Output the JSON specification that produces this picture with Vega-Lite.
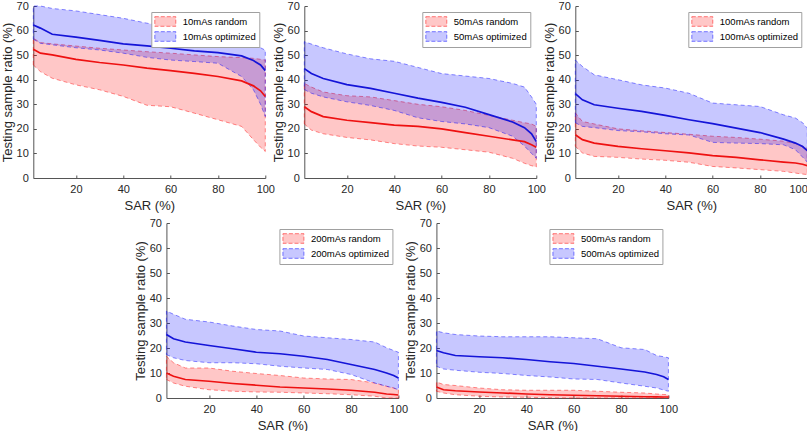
{
  "$schema": "https://vega.github.io/schema/vega-lite/v6.json",
  "padding": {"left": 1, "top": 0, "right": 0, "bottom": 0},
  "autosize": {"type": "pad"},
  "data": {"name": "d"},
  "datasets": {
    "d": [
      {"p":"10mAs","s":"random","x":2,"lo":46,"m":52.4,"hi":56.9},
      {"p":"10mAs","s":"random","x":5,"lo":43.3,"m":50.8,"hi":55.1},
      {"p":"10mAs","s":"random","x":10,"lo":40.6,"m":50.1,"hi":54.6},
      {"p":"10mAs","s":"random","x":20,"lo":37.9,"m":48.3,"hi":53.7},
      {"p":"10mAs","s":"random","x":30,"lo":35.9,"m":47,"hi":52.8},
      {"p":"10mAs","s":"random","x":40,"lo":33.2,"m":46,"hi":52.1},
      {"p":"10mAs","s":"random","x":50,"lo":29.6,"m":44.7,"hi":51.4},
      {"p":"10mAs","s":"random","x":60,"lo":29,"m":43.7,"hi":50.8},
      {"p":"10mAs","s":"random","x":70,"lo":26.4,"m":42.6,"hi":50.1},
      {"p":"10mAs","s":"random","x":80,"lo":23.7,"m":41.3,"hi":49.4},
      {"p":"10mAs","s":"random","x":90,"lo":21,"m":39.5,"hi":49},
      {"p":"10mAs","s":"random","x":95,"lo":15.6,"m":37.5,"hi":48.7},
      {"p":"10mAs","s":"random","x":98,"lo":12.5,"m":35.5,"hi":48.3},
      {"p":"10mAs","s":"random","x":100,"lo":10.8,"m":33.2,"hi":48},
      {"p":"10mAs","s":"optimized","x":2,"lo":56.5,"m":62.3,"hi":70},
      {"p":"10mAs","s":"optimized","x":5,"lo":54.8,"m":61,"hi":70},
      {"p":"10mAs","s":"optimized","x":10,"lo":54.2,"m":58.5,"hi":69},
      {"p":"10mAs","s":"optimized","x":20,"lo":53,"m":57.3,"hi":68},
      {"p":"10mAs","s":"optimized","x":30,"lo":52.1,"m":56,"hi":66.5},
      {"p":"10mAs","s":"optimized","x":40,"lo":50.8,"m":54.6,"hi":65},
      {"p":"10mAs","s":"optimized","x":50,"lo":49.1,"m":53.8,"hi":63},
      {"p":"10mAs","s":"optimized","x":60,"lo":48,"m":52.8,"hi":61.5},
      {"p":"10mAs","s":"optimized","x":70,"lo":47.4,"m":51.7,"hi":60},
      {"p":"10mAs","s":"optimized","x":80,"lo":46.7,"m":51,"hi":58.5},
      {"p":"10mAs","s":"optimized","x":90,"lo":41.3,"m":49.7,"hi":56},
      {"p":"10mAs","s":"optimized","x":95,"lo":35.9,"m":47.8,"hi":54.5},
      {"p":"10mAs","s":"optimized","x":98,"lo":30,"m":46,"hi":53},
      {"p":"10mAs","s":"optimized","x":100,"lo":25,"m":43.7,"hi":52},

      {"p":"50mAs","s":"random","x":2,"lo":22,"m":29,"hi":38.5},
      {"p":"50mAs","s":"random","x":5,"lo":19.5,"m":27,"hi":37},
      {"p":"50mAs","s":"random","x":10,"lo":18,"m":25,"hi":35},
      {"p":"50mAs","s":"random","x":20,"lo":16.5,"m":23.5,"hi":33.5},
      {"p":"50mAs","s":"random","x":30,"lo":15.5,"m":22.5,"hi":33},
      {"p":"50mAs","s":"random","x":40,"lo":14,"m":21.5,"hi":31.5},
      {"p":"50mAs","s":"random","x":50,"lo":13,"m":21,"hi":30},
      {"p":"50mAs","s":"random","x":60,"lo":12.5,"m":20,"hi":29},
      {"p":"50mAs","s":"random","x":70,"lo":11.5,"m":18.5,"hi":27.5},
      {"p":"50mAs","s":"random","x":80,"lo":10.5,"m":17,"hi":25.5},
      {"p":"50mAs","s":"random","x":90,"lo":8,"m":15.5,"hi":23.5},
      {"p":"50mAs","s":"random","x":95,"lo":6,"m":14.8,"hi":22.5},
      {"p":"50mAs","s":"random","x":98,"lo":5,"m":13.5,"hi":22},
      {"p":"50mAs","s":"random","x":100,"lo":4.5,"m":12.5,"hi":21},
      {"p":"50mAs","s":"optimized","x":2,"lo":36,"m":44.5,"hi":55.5},
      {"p":"50mAs","s":"optimized","x":5,"lo":34.5,"m":42.5,"hi":54.5},
      {"p":"50mAs","s":"optimized","x":10,"lo":33,"m":40.5,"hi":53},
      {"p":"50mAs","s":"optimized","x":20,"lo":31,"m":38,"hi":50.5},
      {"p":"50mAs","s":"optimized","x":30,"lo":29.5,"m":36.5,"hi":48.5},
      {"p":"50mAs","s":"optimized","x":40,"lo":27.5,"m":34.5,"hi":47.5},
      {"p":"50mAs","s":"optimized","x":50,"lo":24.5,"m":32.5,"hi":45},
      {"p":"50mAs","s":"optimized","x":60,"lo":23,"m":30.8,"hi":42.5},
      {"p":"50mAs","s":"optimized","x":70,"lo":22,"m":28.8,"hi":41.5},
      {"p":"50mAs","s":"optimized","x":80,"lo":20.5,"m":25.8,"hi":40.5},
      {"p":"50mAs","s":"optimized","x":90,"lo":17,"m":22.8,"hi":38.5},
      {"p":"50mAs","s":"optimized","x":95,"lo":13,"m":20.5,"hi":37},
      {"p":"50mAs","s":"optimized","x":98,"lo":10,"m":18,"hi":33},
      {"p":"50mAs","s":"optimized","x":100,"lo":8,"m":14.8,"hi":30},

      {"p":"100mAs","s":"random","x":2,"lo":12.9,"m":17.6,"hi":26.5},
      {"p":"100mAs","s":"random","x":5,"lo":10.2,"m":15.6,"hi":23},
      {"p":"100mAs","s":"random","x":10,"lo":8.8,"m":14.2,"hi":22},
      {"p":"100mAs","s":"random","x":20,"lo":8.4,"m":12.9,"hi":20},
      {"p":"100mAs","s":"random","x":30,"lo":7.7,"m":11.9,"hi":19.2},
      {"p":"100mAs","s":"random","x":40,"lo":7.2,"m":11.1,"hi":18.5},
      {"p":"100mAs","s":"random","x":50,"lo":6.4,"m":10.2,"hi":17.8},
      {"p":"100mAs","s":"random","x":60,"lo":4.7,"m":9.1,"hi":17},
      {"p":"100mAs","s":"random","x":70,"lo":4.1,"m":8.4,"hi":16.5},
      {"p":"100mAs","s":"random","x":80,"lo":3.4,"m":7.4,"hi":15.8},
      {"p":"100mAs","s":"random","x":90,"lo":2.7,"m":6.5,"hi":15},
      {"p":"100mAs","s":"random","x":95,"lo":2,"m":6.1,"hi":14},
      {"p":"100mAs","s":"random","x":98,"lo":1.6,"m":5.6,"hi":13},
      {"p":"100mAs","s":"random","x":100,"lo":1.4,"m":5,"hi":12},
      {"p":"100mAs","s":"optimized","x":2,"lo":22.5,"m":34.3,"hi":48},
      {"p":"100mAs","s":"optimized","x":5,"lo":21,"m":31.8,"hi":45.4},
      {"p":"100mAs","s":"optimized","x":10,"lo":20.5,"m":29.8,"hi":42},
      {"p":"100mAs","s":"optimized","x":20,"lo":19.3,"m":28.4,"hi":40},
      {"p":"100mAs","s":"optimized","x":30,"lo":18.8,"m":27.1,"hi":37.9},
      {"p":"100mAs","s":"optimized","x":40,"lo":18,"m":25.5,"hi":36.6},
      {"p":"100mAs","s":"optimized","x":50,"lo":17.5,"m":23.7,"hi":34.5},
      {"p":"100mAs","s":"optimized","x":60,"lo":14.5,"m":22.1,"hi":30.5},
      {"p":"100mAs","s":"optimized","x":70,"lo":14.2,"m":20.3,"hi":29.8},
      {"p":"100mAs","s":"optimized","x":80,"lo":14,"m":18.5,"hi":29.1},
      {"p":"100mAs","s":"optimized","x":90,"lo":13.5,"m":15.8,"hi":25.7},
      {"p":"100mAs","s":"optimized","x":95,"lo":11.5,"m":14.2,"hi":24.4},
      {"p":"100mAs","s":"optimized","x":98,"lo":8.5,"m":12.8,"hi":22.5},
      {"p":"100mAs","s":"optimized","x":100,"lo":6.5,"m":11.1,"hi":20.3},

      {"p":"200mAs","s":"random","x":2,"lo":7.4,"m":10,"hi":16.7},
      {"p":"200mAs","s":"random","x":5,"lo":6,"m":8.7,"hi":14.1},
      {"p":"200mAs","s":"random","x":10,"lo":4.7,"m":7.4,"hi":12},
      {"p":"200mAs","s":"random","x":20,"lo":3.3,"m":6.7,"hi":12},
      {"p":"200mAs","s":"random","x":30,"lo":2.7,"m":5.8,"hi":10.7},
      {"p":"200mAs","s":"random","x":40,"lo":2.4,"m":5.1,"hi":9.8},
      {"p":"200mAs","s":"random","x":50,"lo":2.3,"m":4.4,"hi":9},
      {"p":"200mAs","s":"random","x":60,"lo":2,"m":4,"hi":8},
      {"p":"200mAs","s":"random","x":70,"lo":1.7,"m":3.6,"hi":7.6},
      {"p":"200mAs","s":"random","x":80,"lo":1.3,"m":3.1,"hi":7.4},
      {"p":"200mAs","s":"random","x":90,"lo":0.7,"m":2.3,"hi":6},
      {"p":"200mAs","s":"random","x":95,"lo":0,"m":1.6,"hi":4.7},
      {"p":"200mAs","s":"random","x":98,"lo":0,"m":1.4,"hi":4},
      {"p":"200mAs","s":"random","x":100,"lo":0,"m":1.2,"hi":3.3},
      {"p":"200mAs","s":"optimized","x":2,"lo":17.4,"m":25.4,"hi":34.8},
      {"p":"200mAs","s":"optimized","x":5,"lo":16.1,"m":23.7,"hi":33.5},
      {"p":"200mAs","s":"optimized","x":10,"lo":15,"m":22.4,"hi":31.5},
      {"p":"200mAs","s":"optimized","x":20,"lo":14.1,"m":21,"hi":30.4},
      {"p":"200mAs","s":"optimized","x":30,"lo":14.1,"m":19.7,"hi":28.8},
      {"p":"200mAs","s":"optimized","x":40,"lo":13.7,"m":18.3,"hi":27.4},
      {"p":"200mAs","s":"optimized","x":50,"lo":12.7,"m":17.7,"hi":26.8},
      {"p":"200mAs","s":"optimized","x":60,"lo":12,"m":16.7,"hi":24.8},
      {"p":"200mAs","s":"optimized","x":70,"lo":11.4,"m":15.4,"hi":24.1},
      {"p":"200mAs","s":"optimized","x":80,"lo":9.4,"m":13.4,"hi":23.4},
      {"p":"200mAs","s":"optimized","x":90,"lo":6,"m":11.4,"hi":22.4},
      {"p":"200mAs","s":"optimized","x":95,"lo":4.7,"m":10,"hi":20.1},
      {"p":"200mAs","s":"optimized","x":98,"lo":4,"m":9,"hi":19},
      {"p":"200mAs","s":"optimized","x":100,"lo":3.3,"m":8,"hi":18.3},

      {"p":"500mAs","s":"random","x":2,"lo":2.7,"m":4.4,"hi":6.4},
      {"p":"500mAs","s":"random","x":5,"lo":2,"m":3.3,"hi":5.4},
      {"p":"500mAs","s":"random","x":10,"lo":1.3,"m":2.9,"hi":5},
      {"p":"500mAs","s":"random","x":20,"lo":0.7,"m":2.4,"hi":4},
      {"p":"500mAs","s":"random","x":30,"lo":0.4,"m":2,"hi":3.3},
      {"p":"500mAs","s":"random","x":40,"lo":0.3,"m":1.6,"hi":3.1},
      {"p":"500mAs","s":"random","x":50,"lo":0.1,"m":1.3,"hi":3.1},
      {"p":"500mAs","s":"random","x":60,"lo":0,"m":1.1,"hi":3.1},
      {"p":"500mAs","s":"random","x":70,"lo":0,"m":0.9,"hi":2.7},
      {"p":"500mAs","s":"random","x":80,"lo":0,"m":0.7,"hi":2.3},
      {"p":"500mAs","s":"random","x":90,"lo":0,"m":0.5,"hi":2},
      {"p":"500mAs","s":"random","x":95,"lo":0,"m":0.45,"hi":1.6},
      {"p":"500mAs","s":"random","x":98,"lo":0,"m":0.4,"hi":1.4},
      {"p":"500mAs","s":"random","x":100,"lo":0,"m":0.4,"hi":1.3},
      {"p":"500mAs","s":"optimized","x":2,"lo":12.7,"m":19,"hi":26.8},
      {"p":"500mAs","s":"optimized","x":5,"lo":11.6,"m":18.1,"hi":26.1},
      {"p":"500mAs","s":"optimized","x":10,"lo":11.1,"m":17,"hi":25.4},
      {"p":"500mAs","s":"optimized","x":20,"lo":10.3,"m":16.5,"hi":24.8},
      {"p":"500mAs","s":"optimized","x":30,"lo":9.8,"m":16.1,"hi":24.5},
      {"p":"500mAs","s":"optimized","x":40,"lo":9,"m":15.4,"hi":24.5},
      {"p":"500mAs","s":"optimized","x":50,"lo":8.4,"m":14.5,"hi":24.5},
      {"p":"500mAs","s":"optimized","x":60,"lo":7.6,"m":13.8,"hi":24.1},
      {"p":"500mAs","s":"optimized","x":70,"lo":7.4,"m":12.7,"hi":23.7},
      {"p":"500mAs","s":"optimized","x":80,"lo":6,"m":11.6,"hi":20.1},
      {"p":"500mAs","s":"optimized","x":90,"lo":4.7,"m":10.4,"hi":19.4},
      {"p":"500mAs","s":"optimized","x":95,"lo":4,"m":9.4,"hi":17},
      {"p":"500mAs","s":"optimized","x":98,"lo":3.2,"m":8.5,"hi":16.5},
      {"p":"500mAs","s":"optimized","x":100,"lo":2.7,"m":7.4,"hi":16.1}
    ]
  },
  "vconcat": [
    {
      "hconcat": [
        {
          "width": 232, "height": 172,
          "transform": [{"filter": "datum.p == '10mAs'"}],
          "encoding": {"x": {"field": "x", "type": "quantitative", "scale": {"domain": [2, 100], "nice": false, "zero": false}, "axis": {"values": [20, 40, 60, 80, 100], "title": "SAR (%)"}}},
          "layer": [
            {"mark": {"type": "area", "fillOpacity": 0.22, "strokeDash": [4, 3], "strokeOpacity": 0.45, "strokeWidth": 1},
             "encoding": {
               "y": {"field": "lo", "type": "quantitative", "scale": {"domain": [0, 70], "nice": false}, "axis": {"values": [0, 10, 20, 30, 40, 50, 60, 70], "title": "Testing sample ratio (%)"}},
               "y2": {"field": "hi"},
               "fill": {"field": "s", "type": "nominal", "title": null, "scale": {"domain": ["random", "optimized"], "range": ["#ff0000", "#0000ff"]}, "legend": {"labelExpr": "'10mAs ' + datum.label", "encode": {"symbols": {"update": {"fillOpacity": {"value": 0.22}, "strokeOpacity": {"value": 0.5}}}}}},
               "stroke": {"field": "s", "type": "nominal", "title": null, "scale": {"domain": ["random", "optimized"], "range": ["#ff0000", "#0000ff"]}, "legend": {"labelExpr": "'10mAs ' + datum.label", "encode": {"symbols": {"update": {"fillOpacity": {"value": 0.22}, "strokeOpacity": {"value": 0.5}}}}}}
             }},
            {"mark": {"type": "line", "strokeWidth": 1.7},
             "encoding": {"y": {"field": "m", "type": "quantitative", "scale": {"domain": [0, 70], "nice": false}, "axis": {"values": [0, 10, 20, 30, 40, 50, 60, 70], "title": "Testing sample ratio (%)"}}, "color": {"field": "s", "type": "nominal", "scale": {"domain": ["random", "optimized"], "range": ["#ee1111", "#1414d8"]}, "legend": null}}}
          ]
        },
        {
          "width": 232, "height": 172,
          "transform": [{"filter": "datum.p == '50mAs'"}],
          "encoding": {"x": {"field": "x", "type": "quantitative", "scale": {"domain": [2, 100], "nice": false, "zero": false}, "axis": {"values": [20, 40, 60, 80, 100], "title": "SAR (%)"}}},
          "layer": [
            {"mark": {"type": "area", "fillOpacity": 0.22, "strokeDash": [4, 3], "strokeOpacity": 0.45, "strokeWidth": 1},
             "encoding": {
               "y": {"field": "lo", "type": "quantitative", "scale": {"domain": [0, 70], "nice": false}, "axis": {"values": [0, 10, 20, 30, 40, 50, 60, 70], "title": "Testing sample ratio (%)"}},
               "y2": {"field": "hi"},
               "fill": {"field": "s", "type": "nominal", "title": null, "scale": {"domain": ["random", "optimized"], "range": ["#ff0000", "#0000ff"]}, "legend": {"labelExpr": "'50mAs ' + datum.label", "encode": {"symbols": {"update": {"fillOpacity": {"value": 0.22}, "strokeOpacity": {"value": 0.5}}}}}},
               "stroke": {"field": "s", "type": "nominal", "title": null, "scale": {"domain": ["random", "optimized"], "range": ["#ff0000", "#0000ff"]}, "legend": {"labelExpr": "'50mAs ' + datum.label", "encode": {"symbols": {"update": {"fillOpacity": {"value": 0.22}, "strokeOpacity": {"value": 0.5}}}}}}
             }},
            {"mark": {"type": "line", "strokeWidth": 1.7},
             "encoding": {"y": {"field": "m", "type": "quantitative", "scale": {"domain": [0, 70], "nice": false}, "axis": {"values": [0, 10, 20, 30, 40, 50, 60, 70], "title": "Testing sample ratio (%)"}}, "color": {"field": "s", "type": "nominal", "scale": {"domain": ["random", "optimized"], "range": ["#ee1111", "#1414d8"]}, "legend": null}}}
          ]
        },
        {
          "width": 232, "height": 172,
          "transform": [{"filter": "datum.p == '100mAs'"}],
          "encoding": {"x": {"field": "x", "type": "quantitative", "scale": {"domain": [2, 100], "nice": false, "zero": false}, "axis": {"values": [20, 40, 60, 80, 100], "title": "SAR (%)", "labelFlush": true}}},
          "layer": [
            {"mark": {"type": "area", "fillOpacity": 0.22, "strokeDash": [4, 3], "strokeOpacity": 0.45, "strokeWidth": 1},
             "encoding": {
               "y": {"field": "lo", "type": "quantitative", "scale": {"domain": [0, 70], "nice": false}, "axis": {"values": [0, 10, 20, 30, 40, 50, 60, 70], "title": "Testing sample ratio (%)"}},
               "y2": {"field": "hi"},
               "fill": {"field": "s", "type": "nominal", "title": null, "scale": {"domain": ["random", "optimized"], "range": ["#ff0000", "#0000ff"]}, "legend": {"labelExpr": "'100mAs ' + datum.label", "encode": {"symbols": {"update": {"fillOpacity": {"value": 0.22}, "strokeOpacity": {"value": 0.5}}}}}},
               "stroke": {"field": "s", "type": "nominal", "title": null, "scale": {"domain": ["random", "optimized"], "range": ["#ff0000", "#0000ff"]}, "legend": {"labelExpr": "'100mAs ' + datum.label", "encode": {"symbols": {"update": {"fillOpacity": {"value": 0.22}, "strokeOpacity": {"value": 0.5}}}}}}
             }},
            {"mark": {"type": "line", "strokeWidth": 1.7},
             "encoding": {"y": {"field": "m", "type": "quantitative", "scale": {"domain": [0, 70], "nice": false}, "axis": {"values": [0, 10, 20, 30, 40, 50, 60, 70], "title": "Testing sample ratio (%)"}}, "color": {"field": "s", "type": "nominal", "scale": {"domain": ["random", "optimized"], "range": ["#ee1111", "#1414d8"]}, "legend": null}}}
          ]
        }
      ],
      "spacing": 39,
      "bounds": "flush",
      "resolve": {"scale": {"fill": "independent", "stroke": "independent", "color": "independent"}, "legend": {"fill": "independent", "stroke": "independent", "color": "independent"}}
    },
    {
      "hconcat": [
        {
          "width": 232, "height": 175,
          "transform": [{"filter": "datum.p == '200mAs'"}],
          "encoding": {"x": {"field": "x", "type": "quantitative", "scale": {"domain": [2, 100], "nice": false, "zero": false}, "axis": {"values": [20, 40, 60, 80, 100], "title": "SAR (%)"}}},
          "layer": [
            {"mark": {"type": "area", "fillOpacity": 0.22, "strokeDash": [4, 3], "strokeOpacity": 0.45, "strokeWidth": 1},
             "encoding": {
               "y": {"field": "lo", "type": "quantitative", "scale": {"domain": [0, 70], "nice": false}, "axis": {"values": [0, 10, 20, 30, 40, 50, 60, 70], "title": "Testing sample ratio (%)"}},
               "y2": {"field": "hi"},
               "fill": {"field": "s", "type": "nominal", "title": null, "scale": {"domain": ["random", "optimized"], "range": ["#ff0000", "#0000ff"]}, "legend": {"labelExpr": "'200mAs ' + datum.label", "encode": {"symbols": {"update": {"fillOpacity": {"value": 0.22}, "strokeOpacity": {"value": 0.5}}}}}},
               "stroke": {"field": "s", "type": "nominal", "title": null, "scale": {"domain": ["random", "optimized"], "range": ["#ff0000", "#0000ff"]}, "legend": {"labelExpr": "'200mAs ' + datum.label", "encode": {"symbols": {"update": {"fillOpacity": {"value": 0.22}, "strokeOpacity": {"value": 0.5}}}}}}
             }},
            {"mark": {"type": "line", "strokeWidth": 1.7},
             "encoding": {"y": {"field": "m", "type": "quantitative", "scale": {"domain": [0, 70], "nice": false}, "axis": {"values": [0, 10, 20, 30, 40, 50, 60, 70], "title": "Testing sample ratio (%)"}}, "color": {"field": "s", "type": "nominal", "scale": {"domain": ["random", "optimized"], "range": ["#ee1111", "#1414d8"]}, "legend": null}}}
          ]
        },
        {
          "width": 232, "height": 175,
          "transform": [{"filter": "datum.p == '500mAs'"}],
          "encoding": {"x": {"field": "x", "type": "quantitative", "scale": {"domain": [2, 100], "nice": false, "zero": false}, "axis": {"values": [20, 40, 60, 80, 100], "title": "SAR (%)"}}},
          "layer": [
            {"mark": {"type": "area", "fillOpacity": 0.22, "strokeDash": [4, 3], "strokeOpacity": 0.45, "strokeWidth": 1},
             "encoding": {
               "y": {"field": "lo", "type": "quantitative", "scale": {"domain": [0, 70], "nice": false}, "axis": {"values": [0, 10, 20, 30, 40, 50, 60, 70], "title": "Testing sample ratio (%)"}},
               "y2": {"field": "hi"},
               "fill": {"field": "s", "type": "nominal", "title": null, "scale": {"domain": ["random", "optimized"], "range": ["#ff0000", "#0000ff"]}, "legend": {"labelExpr": "'500mAs ' + datum.label", "encode": {"symbols": {"update": {"fillOpacity": {"value": 0.22}, "strokeOpacity": {"value": 0.5}}}}}},
               "stroke": {"field": "s", "type": "nominal", "title": null, "scale": {"domain": ["random", "optimized"], "range": ["#ff0000", "#0000ff"]}, "legend": {"labelExpr": "'500mAs ' + datum.label", "encode": {"symbols": {"update": {"fillOpacity": {"value": 0.22}, "strokeOpacity": {"value": 0.5}}}}}}
             }},
            {"mark": {"type": "line", "strokeWidth": 1.7},
             "encoding": {"y": {"field": "m", "type": "quantitative", "scale": {"domain": [0, 70], "nice": false}, "axis": {"values": [0, 10, 20, 30, 40, 50, 60, 70], "title": "Testing sample ratio (%)"}}, "color": {"field": "s", "type": "nominal", "scale": {"domain": ["random", "optimized"], "range": ["#ee1111", "#1414d8"]}, "legend": null}}}
          ]
        }
      ],
      "spacing": 38,
      "bounds": "flush",
      "resolve": {"scale": {"fill": "independent", "stroke": "independent", "color": "independent"}, "legend": {"fill": "independent", "stroke": "independent", "color": "independent"}}
    }
  ],
  "spacing": 5,
  "bounds": "full",
  "center": true,
  "resolve": {"scale": {"fill": "independent", "stroke": "independent", "color": "independent"}, "legend": {"fill": "independent", "stroke": "independent", "color": "independent"}},
  "config": {
    "font": "Liberation Sans",
    "view": {"stroke": null},
    "axis": {
      "labelFont": "Liberation Sans", "labelFontSize": 11, "labelColor": "#262626",
      "titleFont": "Liberation Sans", "titleFontSize": 13, "titleFontWeight": "normal", "titleColor": "#262626",
      "domainColor": "#555555", "tickColor": "#555555", "grid": false,
      "tickSize": -3, "labelPadding": 8, "titlePadding": 2,
      "labelOverlap": false, "labelFlush": false
    },
    "axisX": {"titlePadding": 5},
    "legend": {
      "orient": "top-right", "offset": 6, "padding": 3, "rowPadding": 0,
      "fillColor": "white", "strokeColor": "#a0a0a0",
      "labelFont": "Liberation Sans", "labelFontSize": 9.5, "labelColor": "#000000", "labelOffset": 11,
      "symbolType": "M-1.75,-0.8H1.75V0.8H-1.75Z", "symbolSize": 144, "symbolStrokeWidth": 1,
      "symbolOffset": 4.5,
      "symbolDash": [4, 2]
    }
  }
}
